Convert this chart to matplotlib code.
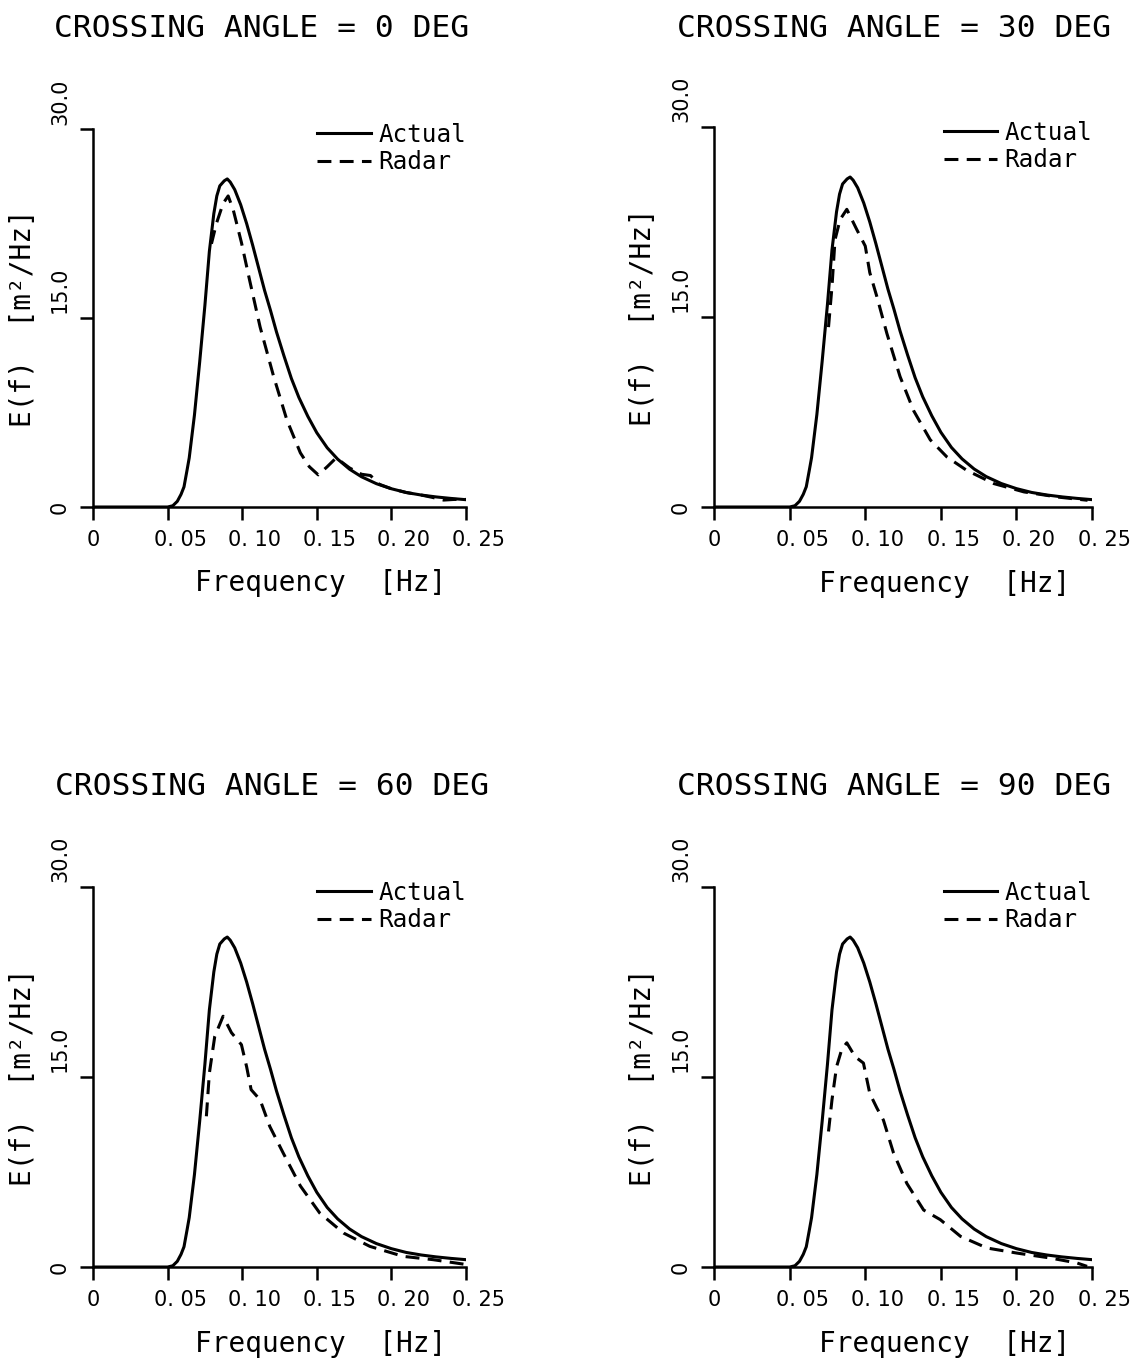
import matplotlib.pyplot as plt
from matplotlib.transforms import ScaledTranslation

plt.rcParams['font.family'] = ['DejaVu Sans Mono', 'DejaVu Sans']
plt.rcParams['lines.scale_dashes'] = False

# actual spectrum (same in every panel)
actual_f = [0.0, 0.050, 0.0535, 0.0565, 0.059, 0.061, 0.063, 0.0645, 0.068, 0.0715,
            0.075, 0.078, 0.081, 0.083, 0.085, 0.088, 0.090, 0.092, 0.095, 0.099,
            0.103, 0.107, 0.111, 0.115, 0.119, 0.123, 0.128, 0.133, 0.138, 0.144,
            0.150, 0.157, 0.164, 0.172, 0.180, 0.190, 0.200, 0.210, 0.220, 0.230,
            0.240, 0.250]
actual_e = [0.0, 0.0, 0.1, 0.45, 1.0, 1.6, 2.9, 3.9, 7.3, 11.5,
            16.0, 20.3, 23.3, 24.7, 25.5, 25.9, 26.05, 25.8, 25.2, 24.0,
            22.5, 20.8, 19.0, 17.2, 15.6, 13.9, 12.0, 10.2, 8.7, 7.2,
            5.9, 4.7, 3.8, 3.0, 2.4, 1.85, 1.45, 1.15, 0.95, 0.80,
            0.68, 0.58]

# radar estimates for each crossing angle
radar_f_0 = [0.0794, 0.0827, 0.0872, 0.0906, 0.094, 0.0995, 0.105, 0.112, 0.121, 0.130,
             0.139, 0.145, 0.151, 0.157, 0.163, 0.172, 0.180, 0.186, 0.192, 0.200,
             0.210, 0.220, 0.228, 0.235, 0.242, 0.250]
radar_e_0 = [20.9, 22.5, 24.1, 24.7, 23.6, 21.0, 18.0, 14.3, 10.4, 6.9,
             4.3, 3.2, 2.55, 3.2, 3.9, 3.1, 2.6, 2.5, 1.8, 1.45,
             1.15, 0.95, 0.75, 0.55, 0.6, 0.6]

radar_f_30 = [0.0757, 0.078, 0.080, 0.0834, 0.0878, 0.0944, 0.100, 0.103, 0.1077, 0.1143,
              0.123, 0.132, 0.143, 0.154, 0.167, 0.185, 0.205, 0.227, 0.247]
radar_e_30 = [14.2, 17.4, 21.1, 22.7, 23.5, 21.9, 20.6, 18.5, 16.6, 13.7,
              10.3, 7.6, 5.3, 3.95, 2.9, 1.85, 1.19, 0.79, 0.53]

radar_f_60 = [0.076, 0.078, 0.0816, 0.0872, 0.0928, 0.0995, 0.103, 0.106, 0.112, 0.1185,
              0.1275, 0.139, 0.152, 0.168, 0.1856, 0.208, 0.228, 0.250]
radar_e_60 = [11.9, 15.3, 18.2, 19.8, 18.5, 17.55, 15.8, 14.0, 13.2, 11.1,
              9.0, 6.4, 4.26, 2.68, 1.63, 0.84, 0.58, 0.2]

radar_f_90 = [0.0757, 0.078, 0.081, 0.0845, 0.0878, 0.0933, 0.0988, 0.103, 0.1077, 0.112,
              0.1187, 0.1275, 0.1386, 0.1496, 0.163, 0.1805, 0.2003, 0.2224, 0.240, 0.2467]
radar_e_90 = [10.7, 13.2, 15.8, 17.2, 17.7, 16.6, 16.1, 13.7, 12.55, 11.6,
              9.0, 6.6, 4.5, 3.74, 2.42, 1.5, 1.1, 0.71, 0.32, 0.05]

angles = [0, 30, 60, 90]
radar_f = [radar_f_0, radar_f_30, radar_f_60, radar_f_90]
radar_e = [radar_e_0, radar_e_30, radar_e_60, radar_e_90]

x_ticks = [0, 0.05, 0.10, 0.15, 0.20, 0.25]
x_labels = ['0', '0. 05', '0. 10', '0. 15', '0. 20', '0. 25']
y_ticks = [0, 15, 30]
y_labels = ['0', '15.0', '30.0']

fig = plt.figure(figsize=(11.37, 13.64), dpi=100)
rects = [[0.0818, 0.6283, 0.328, 0.277],
         [0.628, 0.6283, 0.3325, 0.2786],
         [0.0818, 0.0711, 0.328, 0.2786],
         [0.628, 0.0711, 0.3325, 0.2786]]
title_pos = [(0.2304, 0.9729), (0.7867, 0.9729), (0.239, 0.4171), (0.7867, 0.4171)]

for i in range(4):
    ax = fig.add_axes(rects[i])
    ax.plot(actual_f, actual_e, color='black', lw=2.2, label='Actual')
    ax.plot(radar_f[i], radar_e[i], color='black', lw=2.2, dashes=(10, 6), label='Radar')
    ax.set_xlim(0, 0.25)
    ax.set_ylim(0, 30)
    ax.spines['top'].set_visible(False)
    ax.spines['right'].set_visible(False)
    ax.spines['left'].set_linewidth(1.8)
    ax.spines['bottom'].set_linewidth(1.8)
    ax.set_xticks(x_ticks, x_labels, fontsize=15, family='DejaVu Sans')
    ax.set_yticks(y_ticks, y_labels, fontsize=15, family='DejaVu Sans', rotation=90, va='center')
    ax.tick_params(direction='out', length=9.5, width=1.8, pad=7)
    for lbl, tx in zip(ax.get_xticklabels(), x_labels):
        if tx != '0':
            lbl.set_transform(lbl.get_transform() + ScaledTranslation(9 / 72, 0, fig.dpi_scale_trans))
    for lbl, tx in zip(ax.get_yticklabels(), y_labels):
        if tx != '0':
            lbl.set_transform(lbl.get_transform() + ScaledTranslation(0, 20 / 72, fig.dpi_scale_trans))
    ax.set_xlabel('Frequency  [Hz]', fontsize=20)
    ax.xaxis.set_label_coords(0.611, -0.165)
    ax.set_ylabel('E(f)  [m²/Hz]', fontsize=20)
    ax.yaxis.set_label_coords(-0.15, 0.5)
    ax.legend(loc='upper right', bbox_to_anchor=(1.0, 1.017), frameon=False,
              fontsize=17.5, handlelength=2.2, handletextpad=0.3,
              labelspacing=0.15, borderaxespad=0, borderpad=0)
    fig.text(title_pos[i][0], title_pos[i][1], 'CROSSING ANGLE = %d DEG' % angles[i],
             ha='center', va='baseline', fontsize=22.5)

fig.savefig('out.png', dpi=100)
